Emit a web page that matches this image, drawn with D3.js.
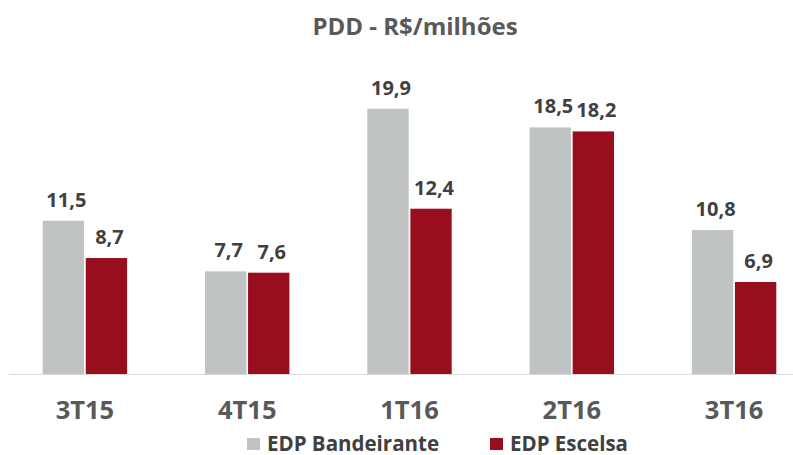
<!DOCTYPE html>
<html>
<head>
<meta charset="utf-8">
<script src="https://cdn.jsdelivr.net/npm/d3@7"></script>
<style>
  html, body { margin: 0; padding: 0; background: #fff; }
  svg { display: block; }
  text { font-family: "Open Sans", Lato, sans-serif; font-weight: 700; }
</style>
</head>
<body>
<svg id="chart" width="793" height="455"></svg>
<script>
const title = "PDD - R$/milhões";
const categories = ["3T15", "4T15", "1T16", "2T16", "3T16"];
const seriesNames = ["EDP Bandeirante", "EDP Escelsa"];
const bandeirante = [11.5, 7.7, 19.9, 18.5, 10.8];
const escelsa = [8.7, 7.6, 12.4, 18.2, 6.9];
const seriesColors = ["#BFC3C3", "#990E1F"];

const seriesValues = [bandeirante, escelsa];
const fmt = v => v.toFixed(1).replace(".", ",");

const svg = d3.select("#chart");
const W = 793, H = 455;

const x = d3.scaleBand().domain(categories).range([3.75, 815.25])
  .paddingInner(0.48).paddingOuter(0.24);
const xs = d3.scaleBand().domain(seriesNames).range([0, x.bandwidth()]).paddingInner(0.04);
const y = d3.scaleLinear().domain([0, 20]).range([374, 107.4]);

// title
svg.append("text").attr("x", 415).attr("y", 35).attr("text-anchor", "middle")
  .attr("font-size", 24).attr("fill", "#595959").text(title);

// bars
const groups = svg.append("g").selectAll("g").data(categories).join("g")
  .attr("transform", c => `translate(${x(c)},0)`);

seriesNames.forEach((s, si) => {
  groups.append("rect")
    .attr("x", xs(s))
    .attr("width", xs.bandwidth())
    .attr("y", (c, i) => y(seriesValues[si][i]))
    .attr("height", (c, i) => y(0) - y(seriesValues[si][i]))
    .attr("fill", seriesColors[si]);
  groups.append("text")
    .attr("x", xs(s) + xs.bandwidth() / 2 + 3)
    .attr("y", (c, i) => y(seriesValues[si][i]) - 14)
    .attr("text-anchor", "middle")
    .attr("font-size", 20)
    .attr("fill", "#404040")
    .text((c, i) => fmt(seriesValues[si][i]));
});

// axis baseline
svg.append("line").attr("x1", 9).attr("x2", W).attr("y1", 374.5).attr("y2", 374.5)
  .attr("stroke", "#D9D9D9").attr("stroke-width", 1);

// category labels via axis
const axis = d3.axisBottom(x).tickSize(0).tickPadding(0);
const ag = svg.append("g").attr("transform", "translate(0,374)").call(axis);
ag.select(".domain").remove();
ag.selectAll("text").attr("y", 45).attr("dy", null)
  .attr("font-size", 25.5).attr("fill", "#595959")
  .style("font-family", "'Open Sans', Lato, sans-serif").style("font-weight", 700);

// legend
const legendX = [247, 490];
const lg = svg.append("g");
seriesNames.forEach((s, i) => {
  lg.append("rect").attr("x", legendX[i]).attr("y", 438).attr("width", 13).attr("height", 12)
    .attr("fill", seriesColors[i]);
  lg.append("text").attr("x", legendX[i] + 20).attr("y", 450.5)
    .attr("font-size", 20.5).attr("fill", "#404040").text(s);
});
</script>
</body>
</html>
